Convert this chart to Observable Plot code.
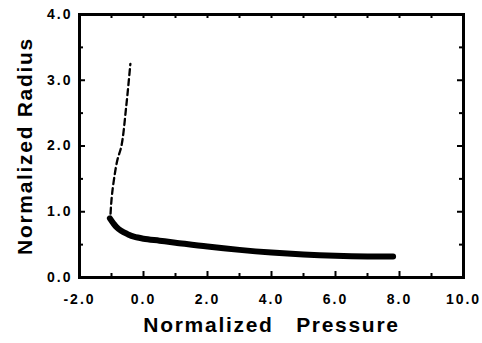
<!DOCTYPE html>
<html><head><meta charset="utf-8">
<script src="https://cdn.jsdelivr.net/npm/d3@7"></script>
<script src="https://cdn.jsdelivr.net/npm/@observablehq/plot@0.6"></script>
<style>body{margin:0;background:#fff}</style>
</head><body><div id="chart"></div>
<script>
const xLabel = "Normalized   Pressure";
const yLabel = "Normalized Radius";
const xMajor = [-2, 0, 2, 4, 6, 8, 10];
const xMinor = [-1, 1, 3, 5, 7, 9];
const yMajor = [0, 1, 2, 3, 4];
const yMinor = [0.5, 1.5, 2.5, 3.5];

// solid curve (thick)
const solidX = [-1.05, -0.95, -0.85, -0.7, -0.5, -0.3, 0.0, 0.5, 1.0, 2.0, 3.0, 4.0, 5.0, 6.0, 7.0, 7.8];
const solidY = [0.90, 0.83, 0.77, 0.71, 0.66, 0.62, 0.59, 0.56, 0.53, 0.47, 0.42, 0.38, 0.35, 0.33, 0.32, 0.32];
// dashed curve
const dashX = [-1.03, -1.01, -0.98, -0.92, -0.82, -0.69, -0.54, -0.41];
const dashY = [0.97, 1.12, 1.28, 1.5, 1.78, 2.0, 2.6, 3.25];

const solid = solidX.map((x, i) => ({x, y: solidY[i]}));
const dashed = dashX.map((x, i) => ({x, y: dashY[i]}));
const fmt = d => d.toFixed(1);

const font = "Liberation Sans, Arial, sans-serif";
const plot = Plot.plot({
  width: 482, height: 343,
  marginLeft: 79, marginRight: 19, marginTop: 14, marginBottom: 66,
  style: {fontFamily: font, fontWeight: "bold", color: "#000", background: "#fff"},
  x: {domain: [-2, 10], axis: null},
  y: {domain: [0, 4], axis: null},
  marks: [
    Plot.line(dashed, {x: "x", y: "y", stroke: "#000", strokeWidth: 2.3, strokeDasharray: "6,4", curve: "catmull-rom"}),
    Plot.line(solid, {x: "x", y: "y", stroke: "#000", strokeWidth: 6, curve: "catmull-rom"}),
    // bottom ticks (inward)
    Plot.tickX(xMajor, {x: d => d, insetTop: 257, strokeWidth: 2}),
    Plot.tickX(xMinor, {x: d => d, insetTop: 259, strokeWidth: 2}),
    // top ticks
    Plot.tickX(xMajor.concat(xMinor), {x: d => d, insetBottom: 259, strokeWidth: 2}),
    // left ticks
    Plot.tickY(yMajor, {y: d => d, insetRight: 378, strokeWidth: 2}),
    Plot.tickY(yMinor, {y: d => d, insetRight: 380, strokeWidth: 2}),
    // right ticks
    Plot.tickY(yMajor, {y: d => d, insetLeft: 378, strokeWidth: 2}),
    Plot.tickY(yMinor, {y: d => d, insetLeft: 380, strokeWidth: 2}),
    Plot.frame({stroke: "#000", strokeWidth: 3}),
    Plot.axisX(xMajor, {anchor: "bottom", label: null, tickSize: 0, tickPadding: 17, tickFormat: fmt, fontSize: 14, fontWeight: "bold", fontFamily: font}),
    Plot.axisY(yMajor, {anchor: "left", label: null, tickSize: 0, tickPadding: 7, tickFormat: fmt, fontSize: 14, fontWeight: "bold", fontFamily: font}),
    Plot.text([xLabel], {text: d => d, frameAnchor: "bottom", lineAnchor: "middle", textAnchor: "middle", dy: 48, fontSize: 21, fontWeight: "bold", fontFamily: font}),
    Plot.text([yLabel], {text: d => d, frameAnchor: "left", lineAnchor: "middle", textAnchor: "middle", dx: -54, rotate: -90, fontSize: 21, fontWeight: "bold", fontFamily: font})
  ]
});
plot.querySelectorAll("text").forEach(t => {
  if (t.textContent === xLabel || t.textContent === yLabel) t.setAttribute("letter-spacing", "1.7");
  else t.setAttribute("letter-spacing", "2");
  t.setAttribute("xml:space", "preserve");
  t.style.whiteSpace = "pre";
});
document.getElementById("chart").appendChild(plot);
</script></body></html>
